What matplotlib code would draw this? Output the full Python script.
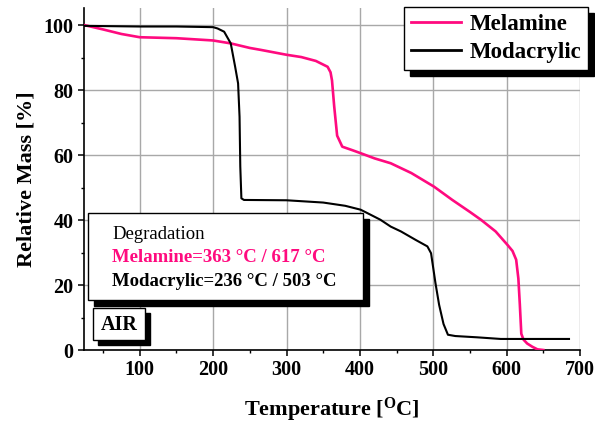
import matplotlib
matplotlib.use("Agg")
import matplotlib.pyplot as plt
from matplotlib.patches import Rectangle
from matplotlib.ticker import MultipleLocator

# =============================================================================
# Data (air atmosphere)
# =============================================================================

melamine_temp = [25, 50, 75, 100, 150, 200, 224, 250, 265, 300, 320, 340, 356,
                 360, 362, 365, 369, 376, 390, 401, 420, 442, 470, 501, 526,
                 550, 565, 585, 601, 608, 613, 616, 618, 620, 623, 628, 635,
                 642, 650]
melamine_mass = [100, 98.7, 97.3, 96.3, 96.0, 95.3, 94.4, 93.0, 92.4, 90.9,
                 90.2, 89.0, 87.2, 85.5, 83.0, 75.0, 66.0, 62.6, 61.5, 60.6,
                 59.0, 57.5, 54.5, 50.3, 46.2, 42.5, 40.1, 36.5, 32.4, 30.5,
                 27.8, 22.0, 14.0, 5.0, 3.2, 2.0, 1.0, 0.2, 0.0]

modacrylic_temp = [25, 100, 150, 200, 206, 215, 224, 230, 234, 236, 237, 238.5,
                   242, 300, 350, 380, 401, 415, 428, 442, 456, 476, 492, 497,
                   503, 508, 514, 520, 530, 560, 592, 685]
modacrylic_mass = [99.8, 99.6, 99.6, 99.4, 99.0, 98.0, 94.4, 87.2, 82.1, 71.8,
                   56.5, 46.7, 46.2, 46.1, 45.4, 44.4, 43.2, 41.6, 40.1, 38.0,
                   36.5, 33.9, 31.9, 29.8, 20.6, 13.9, 8.0, 4.7, 4.3, 3.9,
                   3.4, 3.4]

series_labels = ["Melamine", "Modacrylic"]
series_colors = ["#ff0a7f", "#000000"]
annotation_lines = ["Degradation",
                    "Melamine=363 °C / 617 °C",
                    "Modacrylic=236 °C / 503 °C"]

# =============================================================================
# Figure
# =============================================================================

W, H = 595, 423
plt.rcParams["font.family"] = "Liberation Serif"
plt.rcParams["font.weight"] = "bold"
plt.rcParams["mathtext.fontset"] = "custom"
plt.rcParams["mathtext.rm"] = "Liberation Serif:bold"

fig = plt.figure(figsize=(W / 100, H / 100), dpi=100)
ax = fig.add_axes([84 / W, 1 - 350 / H, (580 - 84) / W, (350 - 8) / H])


def fx(px):
    return px / W


def fy(py):
    return 1 - py / H


ax.plot(melamine_temp, melamine_mass, color=series_colors[0], lw=1.9,
        label=series_labels[0], zorder=3)
ax.plot(modacrylic_temp, modacrylic_mass, color=series_colors[1], lw=1.5,
        label=series_labels[1], zorder=3)

ax.set_xlim(24, 700)
ax.set_ylim(0, 105.3)
ax.xaxis.set_major_locator(MultipleLocator(100))
ax.xaxis.set_minor_locator(MultipleLocator(50))
ax.yaxis.set_major_locator(MultipleLocator(20))
ax.yaxis.set_minor_locator(MultipleLocator(10))
ax.grid(True, which="major", color="#a8a8a8", lw=1.0, zorder=0)

for side in ("top", "right"):
    ax.spines[side].set_visible(False)
for side in ("left", "bottom"):
    ax.spines[side].set_linewidth(1.2)

ax.tick_params(which="major", direction="out", length=4.5, width=1.1,
               labelsize=14.5, pad=3)
ax.tick_params(which="minor", direction="out", length=2.5, width=1.0)
for lab in ax.get_xticklabels() + ax.get_yticklabels():
    lab.set_fontweight("bold")

ax.set_xlabel("Temperature [$\\mathregular{^{O}}$C]", fontsize=16,
              fontweight="bold", labelpad=11)
ax.set_ylabel("Relative Mass [%]", fontsize=16, fontweight="bold", labelpad=5)

# legend with solid black drop shadow
leg = ax.legend(loc="upper right", bbox_to_anchor=(fx(588), fy(7)),
                bbox_transform=fig.transFigure, borderaxespad=0,
                fancybox=False, frameon=True, handlelength=2.2,
                handletextpad=0.35, borderpad=0.3, labelspacing=0.3,
                prop={"family": "Liberation Serif", "size": 16.5,
                      "weight": "bold"},
                shadow={"ox": 4.5, "oy": -4.5, "facecolor": "k",
                        "edgecolor": "k", "alpha": 1})
leg.get_frame().set_edgecolor("black")
leg.get_frame().set_linewidth(1.0)
leg.get_frame().set_alpha(1)
for line in leg.get_lines():
    line.set_linewidth(2.0)


def shadow_box(x0, y0, x1, y1, off=6):
    fig.patches.append(Rectangle((fx(x0 + off), fy(y1 + off)),
                                 fx(x1 - x0), (y1 - y0) / H,
                                 transform=fig.transFigure,
                                 facecolor="black", edgecolor="black",
                                 zorder=5))
    fig.patches.append(Rectangle((fx(x0), fy(y1)), fx(x1 - x0), (y1 - y0) / H,
                                 transform=fig.transFigure,
                                 facecolor="white", edgecolor="black",
                                 lw=1.0, zorder=6))


# degradation annotation box
shadow_box(88, 213, 363, 300, off=6)
fig.text(fx(112), fy(234), annotation_lines[0], fontsize=13.5,
         fontweight="normal", va="center", zorder=7)
fig.text(fx(112), fy(258), annotation_lines[1], fontsize=13.5,
         fontweight="bold", color=series_colors[0], va="center", zorder=7)
fig.text(fx(112), fy(282), annotation_lines[2], fontsize=13.5,
         fontweight="bold", color=series_colors[1], va="center", zorder=7)

# atmosphere tag
shadow_box(93, 308, 145, 340, off=5)
fig.text(fx(119), fy(325), "AIR", fontsize=14.5, fontweight="bold",
         ha="center", va="center", zorder=7)

fig.savefig("out.png", dpi=100)
